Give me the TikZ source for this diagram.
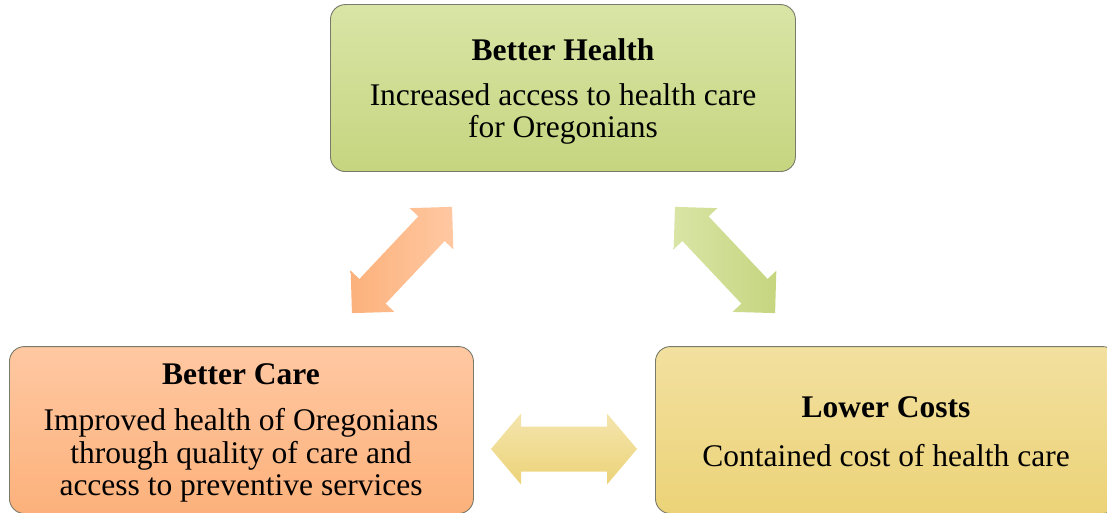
\documentclass[tikz,border=0pt]{standalone}
\usepackage{fontspec}
\setmainfont{Liberation Serif}
\usetikzlibrary{calc}
\definecolor{grT}{HTML}{D8E5A6}
\definecolor{grB}{HTML}{C5D57F}
\definecolor{orT}{HTML}{FFC8A2}
\definecolor{orB}{HTML}{FCB17B}
\definecolor{yeT}{HTML}{F2E09F}
\definecolor{yeB}{HTML}{ECD378}
\definecolor{boxline}{HTML}{7A7A6A}
\begin{document}
\begin{tikzpicture}[x=1pt,y=1pt,
  box/.style={draw=boxline, line width=0.9pt, rounded corners=15pt, anchor=south west, inner sep=0pt},
  ttl/.style={anchor=base, inner sep=0pt, font=\fontsize{31.5}{33}\selectfont\bfseries},
  txt/.style={anchor=base, inner sep=0pt, font=\fontsize{31.5}{33}\selectfont},
  pics/dblarrow/.style args={#1/#2/#3/#4}{code={
    \path[pic actions] (-#1,0) -- (-#1+#2,#3) -- (-#1+#2,#4) -- (#1-#2,#4) -- (#1-#2,#3)
      -- (#1,0) -- (#1-#2,-#3) -- (#1-#2,-#4) -- (-#1+#2,-#4) -- (-#1+#2,-#3) -- cycle;
  }}
]
\clip (0,0) rectangle (1107,512);
% boxes
\node[box, minimum width=465pt, minimum height=167pt, top color=grT, bottom color=grB] (health) at (330,340) {};
\node[box, minimum width=464pt, minimum height=167pt, top color=orT, bottom color=orB] (care) at (9,-2) {};
\node[box, minimum width=462pt, minimum height=167pt, top color=yeT, bottom color=yeB] (costs) at (655,-2) {};
% texts
\node[ttl] (h1) at (563,451) {Better Health};
\node[txt] (h2) at (563,406) {Increased access to health care};
\node[txt] (h3) at (563,374) {for Oregonians};
\node[ttl] (c1) at (241,128) {Better Care};
\node[txt] (c2) at (241,82) {Improved health of Oregonians};
\node[txt] (c3) at (241,49) {through quality of care and};
\node[txt] (c4) at (241,17) {access to preventive services};
\node[ttl] (l1) at (886,95) {Lower Costs};
\node[txt] (l2) at (886,46) {Contained cost of health care};
% block arrows
\coordinate (aHC) at (402,252);
\coordinate (aHL) at (725,252);
\coordinate (aCL) at (564,63);
\pic[left color=orB, right color=orT, rotate=46.7] at (aHC) {dblarrow={73/30/30/18}};
\pic[left color=grT, right color=grB, rotate=-46.7] at (aHL) {dblarrow={73/30/30/18}};
\pic[top color=yeT!85!white, bottom color=yeB] at (aCL) {dblarrow={73/30/35.5/22.5}};
\end{tikzpicture}
\end{document}
